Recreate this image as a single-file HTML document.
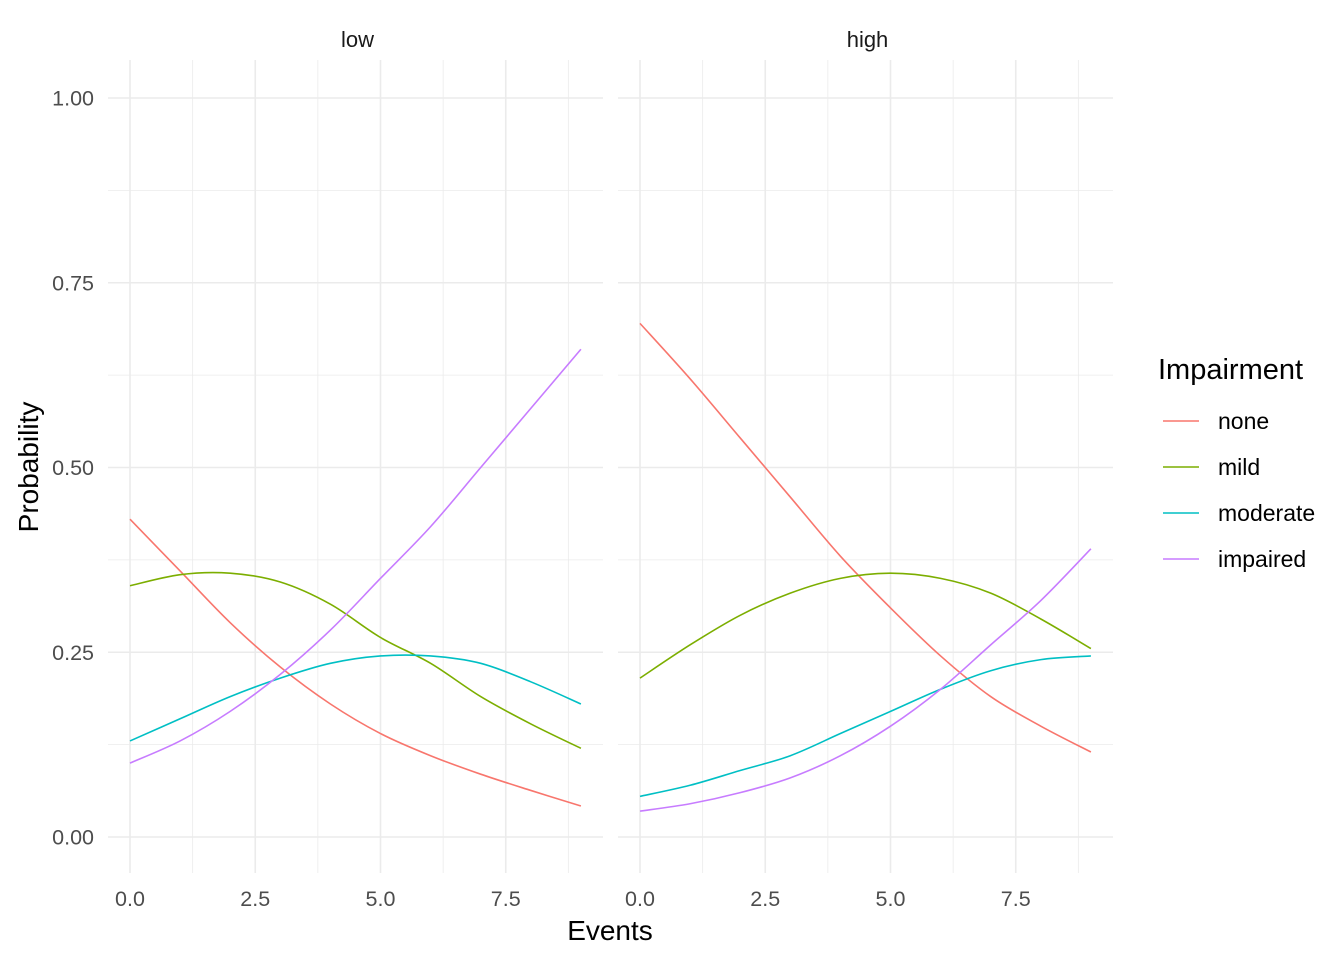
<!DOCTYPE html>
<html><head><meta charset="utf-8"><style>
body{margin:0;background:#fff;font-family:"Liberation Sans",Arial,sans-serif}
</style></head><body>
<svg id="chart" width="1344" height="960" xmlns="http://www.w3.org/2000/svg" font-family="Liberation Sans, Arial, sans-serif"></svg>
<script>
const xValues=[0,1,2,3,4,5,6,7,8,9];
const panels=["low","high"];
const seriesNames=["none","mild","moderate","impaired"];
const lowNone=[0.43,0.36,0.29,0.23,0.18,0.14,0.11,0.085,0.063,0.042];
const lowMild=[0.34,0.355,0.357,0.345,0.315,0.27,0.235,0.19,0.153,0.12];
const lowModerate=[0.13,0.16,0.19,0.215,0.235,0.245,0.245,0.235,0.21,0.18];
const lowImpaired=[0.10,0.13,0.17,0.22,0.28,0.35,0.42,0.50,0.58,0.66];
const highNone=[0.695,0.62,0.54,0.46,0.38,0.31,0.245,0.19,0.15,0.115];
const highMild=[0.215,0.26,0.30,0.33,0.35,0.357,0.35,0.33,0.295,0.255];
const highModerate=[0.055,0.07,0.09,0.11,0.14,0.17,0.20,0.225,0.24,0.245];
const highImpaired=[0.035,0.045,0.06,0.08,0.11,0.15,0.20,0.26,0.32,0.39];
const yTicks=[0,0.25,0.5,0.75,1];
const yTickLabels=["0.00","0.25","0.50","0.75","1.00"];
const xTicks=[0,2.5,5,7.5];
const xTickLabels=["0.0","2.5","5.0","7.5"];

const colors=["#F8766D","#7CAE00","#00BFC4","#C77CFF"];
const data={low:[lowNone,lowMild,lowModerate,lowImpaired],high:[highNone,highMild,highModerate,highImpaired]};
const svg=document.getElementById('chart');
const NS="http://www.w3.org/2000/svg";
function mk(tag,attrs,parent){const e=document.createElementNS(NS,tag);for(const k in attrs)e.setAttribute(k,attrs[k]);(parent||svg).appendChild(e);return e;}
const panelLeft=[108,618],panelW=495,x0Off=22,xUnit=50.1;
const yScale=v=>837-v*739;
const panelTop=60,panelBottom=873;

panels.forEach((p,pi)=>{
  const g=mk('g',{});
  
  
  const L=panelLeft[pi],R=L+panelW;
  const xScale=v=>L+x0Off+v*xUnit;
  for(let i=0;i<yTicks.length-1;i++){const y=yScale((yTicks[i]+yTicks[i+1])/2);
    const l=mk('line',{x1:L,x2:R,y1:y,y2:y,stroke:'#ebebeb','stroke-width':0.8},g);
    }
  for(let i=0;i<xTicks.length;i++){const x=xScale(xTicks[i]+1.25);
    const l=mk('line',{x1:x,x2:x,y1:panelTop,y2:panelBottom,stroke:'#ebebeb','stroke-width':0.8},g);
    }
  yTicks.forEach((t,i)=>{const y=yScale(t);
    const l=mk('line',{x1:L,x2:R,y1:y,y2:y,stroke:'#ebebeb','stroke-width':1.6},g);
    
    if(pi===0){const tx=mk('text',{x:94,y:y+7.5,'text-anchor':'end','font-size':21.5,fill:'#4d4d4d'});tx.textContent=yTickLabels[i];
      }
  });
  xTicks.forEach((t,i)=>{const x=xScale(t);
    const l=mk('line',{x1:x,x2:x,y1:panelTop,y2:panelBottom,stroke:'#ebebeb','stroke-width':1.6},g);
    
    const tx=mk('text',{x:x,y:906,'text-anchor':'middle','font-size':21.5,fill:'#4d4d4d'});tx.textContent=xTickLabels[i];
    
  });
  const st=mk('text',{x:L+panelW/2+2,y:47,'text-anchor':'middle','font-size':22,fill:'#1a1a1a'});st.textContent=p;
  
  data[p].forEach((vals,si)=>{
    const pts=xValues.map((x,i)=>[xScale(x),yScale(vals[i])]);
    let d='M'+pts[0][0]+','+pts[0][1];
    for(let i=0;i<pts.length-1;i++){const p0=pts[Math.max(0,i-1)],p1=pts[i],p2=pts[i+1],p3=pts[Math.min(pts.length-1,i+2)];
      const c1=[p1[0]+(p2[0]-p0[0])/6,p1[1]+(p2[1]-p0[1])/6],c2=[p2[0]-(p3[0]-p1[0])/6,p2[1]-(p3[1]-p1[1])/6];
      d+=' C'+c1+' '+c2+' '+p2;}
    const path=mk('path',{d:d,fill:'none',stroke:colors[si],'stroke-width':1.6},g);
    
    
  });
});
const xt=mk('text',{x:610,y:940,'text-anchor':'middle','font-size':28,fill:'#000'});xt.textContent='Events';

const yt=mk('text',{x:0,y:0,'text-anchor':'middle','font-size':28,fill:'#000',transform:'translate(38,467) rotate(-90)'});yt.textContent='Probability';

const lg=mk('g',{});

const lt=mk('text',{x:1158,y:379,'font-size':29,fill:'#000'},lg);lt.textContent='Impairment';

seriesNames.forEach((n,i)=>{const y=421+i*46;
  const e=mk('g',{},lg);
  
  mk('line',{x1:1163,x2:1199,y1:y,y2:y,stroke:colors[i],'stroke-width':1.6},e);
  const t=mk('text',{x:1218,y:y+8,'font-size':23,fill:'#000'},e);t.textContent=n;
});
</script>
</body></html>
